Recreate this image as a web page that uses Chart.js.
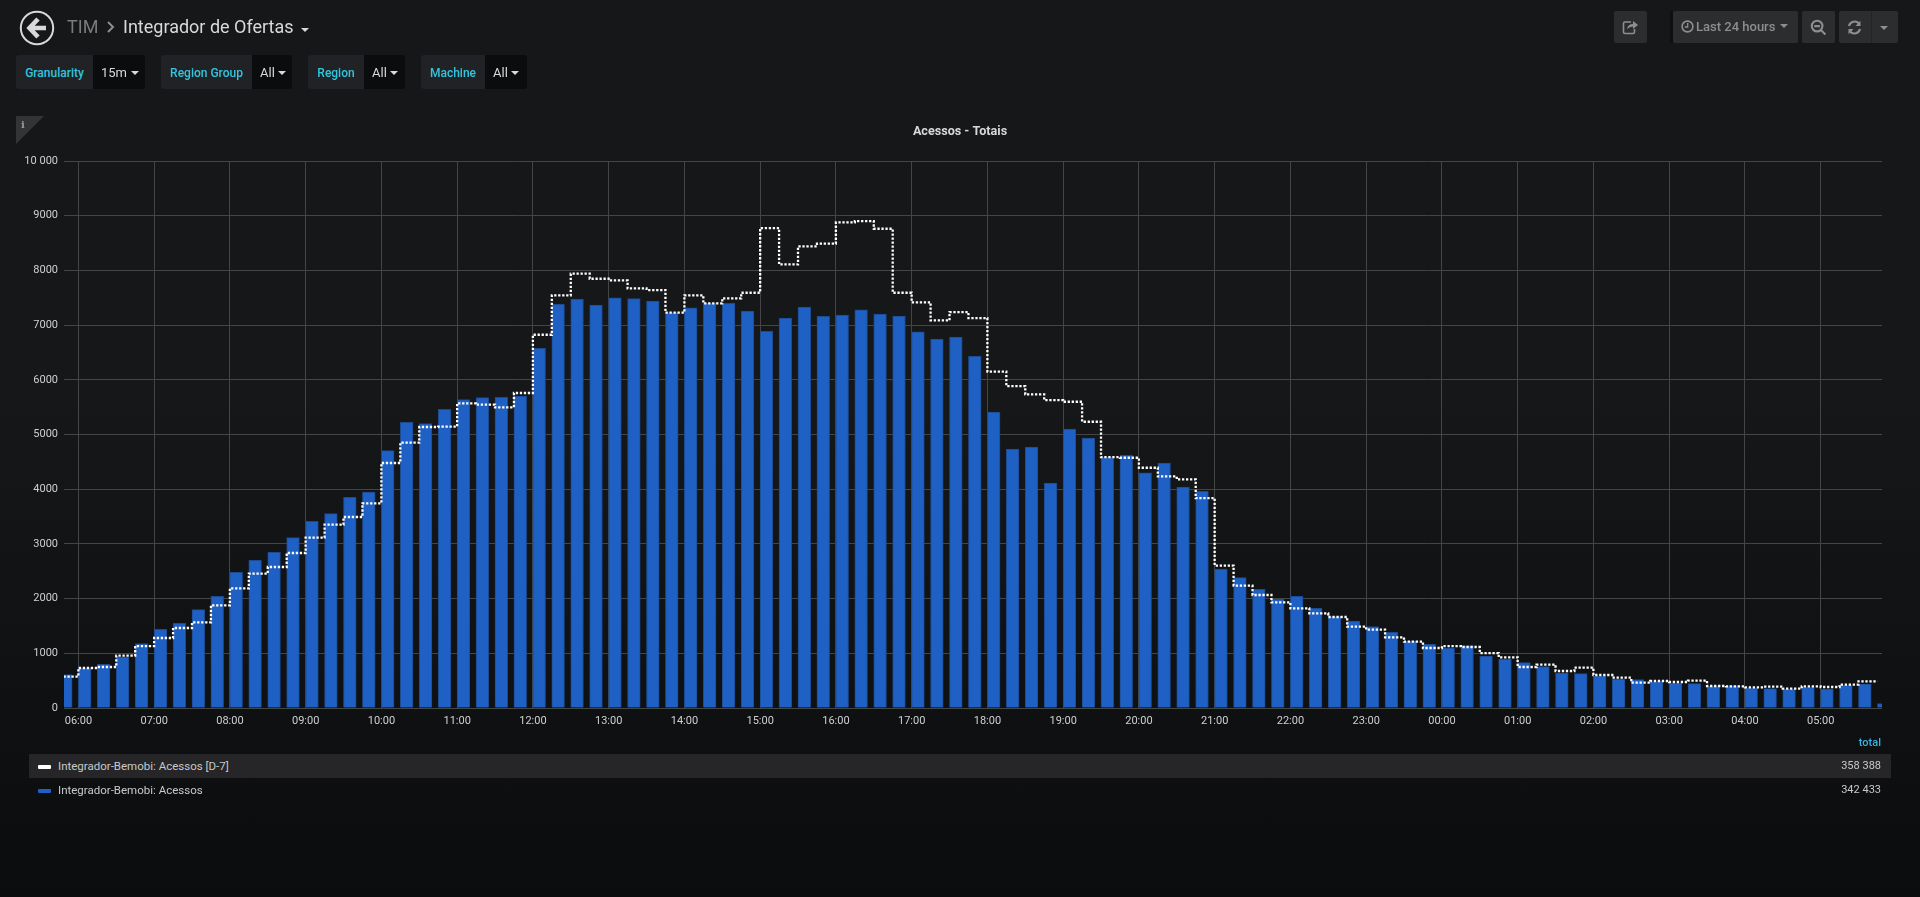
<!DOCTYPE html>
<html>
<head>
<meta charset="utf-8">
<title>Integrador de Ofertas</title>
<script src="https://cdn.jsdelivr.net/npm/chart.js@4/dist/chart.umd.min.js"></script>
<style>
html,body{margin:0;padding:0;width:1920px;height:897px;overflow:hidden;}
body{background:linear-gradient(#161719 0%,#161719 45%,#0f1012 80%,#0b0c0e 100%);font-family:Roboto,sans-serif;color:#d8d9da;position:relative;}
canvas{position:absolute;left:0;top:0;}
.a{position:absolute;white-space:nowrap;}
.lab{background:#212226;color:#33c5de;font-weight:500;font-size:12px;height:34px;line-height:36px;text-align:center;border-radius:3px 0 0 3px;}
.val{background:#0b0c0e;color:#d8d9da;font-size:13px;height:34px;line-height:36px;border-radius:0 3px 3px 0;text-align:left;}
.car{position:absolute;width:0;height:0;border-left:4px solid transparent;border-right:4px solid transparent;border-top:4px solid currentColor;}
.btn{background:#2c2d2f;border-radius:2px;height:32px;top:11px;color:#8e8e8e;}
.leg{font-size:11.5px;color:#c8c9ca;}
.num{font-size:11px;color:#c8c9ca;}
</style>
</head>
<body>
<canvas id="chart" width="1920" height="897"></canvas>

<!-- header -->
<svg class="a" style="left:19px;top:10px" width="36" height="36" viewBox="0 0 36 36">
  <circle cx="18" cy="18" r="16.2" fill="none" stroke="#d8d9da" stroke-width="2"/>
  <path d="M19 9 L10.5 18 L19 27 M11 18 H27" fill="none" stroke="#d8d9da" stroke-width="4.6"/>
</svg>
<div class="a" style="left:67px;top:16px;font-size:18px;color:#7b7b7b;line-height:22px">TIM</div>
<svg class="a" style="left:106px;top:20px" width="9" height="14" viewBox="0 0 9 14"><path d="M2 2 L7 7 L2 12" fill="none" stroke="#8e8e8e" stroke-width="2"/></svg>
<div class="a" style="left:123px;top:16px;font-size:18px;color:#d8d9da;line-height:22px">Integrador de Ofertas</div>
<div class="car" style="left:301px;top:28px;color:#d8d9da"></div>

<!-- variables -->
<div class="a lab" style="left:16px;top:55px;width:77px">Granularity</div>
<div class="a val" style="left:93px;top:55px;width:44px;padding-left:8px">15m</div>
<div class="car" style="left:131px;top:71px;color:#d8d9da"></div>
<div class="a lab" style="left:161px;top:55px;width:91px">Region Group</div>
<div class="a val" style="left:252px;top:55px;width:32px;padding-left:8px">All</div>
<div class="car" style="left:278px;top:71px;color:#d8d9da"></div>
<div class="a lab" style="left:308px;top:55px;width:56px">Region</div>
<div class="a val" style="left:364px;top:55px;width:33px;padding-left:8px">All</div>
<div class="car" style="left:390px;top:71px;color:#d8d9da"></div>
<div class="a lab" style="left:421px;top:55px;width:64px">Machine</div>
<div class="a val" style="left:485px;top:55px;width:34px;padding-left:8px">All</div>
<div class="car" style="left:511px;top:71px;color:#d8d9da"></div>

<!-- toolbar -->
<div class="a btn" style="left:1614px;width:33px">
  <svg style="position:absolute;left:8px;top:8px" width="17" height="16" viewBox="0 0 17 16"><path d="M9 3 H3 Q1.5 3 1.5 4.5 V13 Q1.5 14.5 3 14.5 H11 Q12.5 14.5 12.5 13 V10" fill="none" stroke="#8e8e8e" stroke-width="1.6"/><path d="M5 10 Q6 5 11 5 V2 L16 6 L11 10 V7.4 Q7.5 7.4 5 10 Z" fill="#8e8e8e"/></svg>
</div>
<div class="a" style="left:1670px;top:11px;width:3px;height:32px;background:#0e0f11"></div>
<div class="a btn" style="left:1673px;width:125px;font-size:13px;line-height:32px">
  <svg style="position:absolute;left:8px;top:9px" width="13" height="13" viewBox="0 0 13 13"><circle cx="6.5" cy="6.5" r="5.4" fill="none" stroke="#8e8e8e" stroke-width="1.6"/><path d="M6.7 3 V7 H3.8" fill="none" stroke="#8e8e8e" stroke-width="1.3"/></svg>
  <span style="position:absolute;left:23px;font-weight:500">Last 24 hours</span>
  <div class="car" style="left:107px;top:13px"></div>
</div>
<div class="a btn" style="left:1802px;width:33px">
  <svg style="position:absolute;left:8px;top:8px" width="17" height="17" viewBox="0 0 16 16"><circle cx="6.7" cy="6.7" r="5" fill="none" stroke="#8e8e8e" stroke-width="2"/><path d="M4 6.7 H9.4 M10.5 10.5 L14.5 14.5" stroke="#8e8e8e" stroke-width="2" fill="none"/></svg>
</div>
<div class="a btn" style="left:1839px;width:59px">
  <svg style="position:absolute;left:8px;top:9px" width="15" height="15" viewBox="0 0 15 15"><path d="M2 6 A5.8 5.8 0 0 1 12 3.5 M13 9 A5.8 5.8 0 0 1 3 11.5" fill="none" stroke="#8e8e8e" stroke-width="2.2"/><path d="M13.5 0.8 V6 H8.5 Z M1.5 14.2 V9 H6.5 Z" fill="#8e8e8e"/></svg>
  <div style="position:absolute;left:32px;top:0;width:1px;height:32px;background:#232426"></div>
  <div class="car" style="left:41px;top:15px"></div>
</div>

<!-- panel info corner -->
<svg class="a" style="left:16px;top:116px" width="28" height="28" viewBox="0 0 28 28"><path d="M0 0 H28 L0 28 Z" fill="#333436"/></svg>
<div class="a" style="left:21px;top:118px;font:bold 10px 'DejaVu Serif',serif;color:#9a9a9a;line-height:14px">i</div>

<!-- legend -->
<div class="a" style="left:29px;top:754px;width:1862px;height:24px;background:#262628"></div>
<div class="a" style="left:1841px;width:40px;top:736px;text-align:right;font-size:11px;line-height:14px;color:#33b5e5;font-weight:500">total</div>
<div class="a" style="left:38px;top:765px;width:13px;height:4px;background:#fff;border-radius:1px"></div>
<div class="a leg" style="left:58px;top:758.5px;line-height:14px">Integrador-Bemobi: Acessos [D-7]</div>
<div class="a num" style="left:1781px;width:100px;text-align:right;top:758.5px;line-height:14px">358 388</div>
<div class="a" style="left:38px;top:789px;width:13px;height:4px;background:#1f60c4;border-radius:1px"></div>
<div class="a leg" style="left:58px;top:782.5px;line-height:14px">Integrador-Bemobi: Acessos</div>
<div class="a num" style="left:1781px;width:100px;text-align:right;top:782.5px;line-height:14px">342 433</div>

<script>
const categories = [
"05:45",
"06:00","06:15","06:30","06:45","07:00","07:15","07:30","07:45",
"08:00","08:15","08:30","08:45","09:00","09:15","09:30","09:45",
"10:00","10:15","10:30","10:45","11:00","11:15","11:30","11:45",
"12:00","12:15","12:30","12:45","13:00","13:15","13:30","13:45",
"14:00","14:15","14:30","14:45","15:00","15:15","15:30","15:45",
"16:00","16:15","16:30","16:45","17:00","17:15","17:30","17:45",
"18:00","18:15","18:30","18:45","19:00","19:15","19:30","19:45",
"20:00","20:15","20:30","20:45","21:00","21:15","21:30","21:45",
"22:00","22:15","22:30","22:45","23:00","23:15","23:30","23:45",
"00:00","00:15","00:30","00:45","01:00","01:15","01:30","01:45",
"02:00","02:15","02:30","02:45","03:00","03:15","03:30","03:45",
"04:00","04:15","04:30","04:45","05:00","05:15","05:30","05:45"];

const acessos = [
610,
725,798,930,1176,1438,1548,1798,2041,
2480,2700,2846,3114,3413,3553,3851,3949,
4705,5222,5198,5460,5637,5673,5680,5704,
6575,7379,7476,7367,7501,7483,7440,7227,
7318,7397,7397,7257,6885,7129,7330,7160,
7184,7281,7202,7166,6879,6745,6782,6428,
5411,4734,4770,4112,5099,4935,4581,4618,
4301,4478,4039,3960,2541,2383,2169,1993,
2041,1822,1670,1590,1487,1383,1225,1164,
1097,1140,951,890,829,756,640,628,
585,530,518,481,451,445,396,408,
366,353,347,378,347,414,439,79];

const acessosD7 = [
573,
731,750,957,1133,1280,1463,1566,1877,
2188,2456,2578,2834,3114,3352,3492,3742,
4479,4851,5137,5143,5570,5545,5497,5759,
6824,7544,7940,7848,7818,7671,7641,7227,
7544,7397,7489,7592,8775,8110,8439,8488,
8878,8902,8762,7592,7416,7086,7239,7129,
6148,5885,5733,5629,5599,5233,4587,4575,
4392,4234,4179,3838,2602,2237,2066,1932,
1822,1731,1664,1487,1432,1292,1213,1097,
1133,1115,1005,926,750,792,676,737,
603,555,463,494,475,500,402,396,
378,390,353,396,384,427,488,488];

const xTickLabels = ["06:00","07:00","08:00","09:00","10:00","11:00","12:00","13:00","14:00","15:00","16:00","17:00","18:00","19:00","20:00","21:00","22:00","23:00","00:00","01:00","02:00","03:00","04:00","05:00"];
const yTickLabels = ["0","1000","2000","3000","4000","5000","6000","7000","8000","9000","10 000"];
const seriesNames = ["Integrador-Bemobi: Acessos [D-7]","Integrador-Bemobi: Acessos"];
const panelTitle = "Acessos - Totais";

function toMinutes(list){
  let prev = -1, add = 0;
  return list.map(s => {
    const p = s.split(":");
    let m = (+p[0])*60 + (+p[1]);
    if (m + add <= prev) add += 1440;
    prev = m + add;
    return prev;
  });
}
const slotMinutes = toMinutes(categories);
const tickMinutes = toMinutes(xTickLabels);
const WINDOW_START = 348.6, WINDOW_END = 1788.6, BAR_SHIFT = 5;

const GRID = "#444547", TICK = "#cfd0d1";

new Chart(document.getElementById("chart").getContext("2d"), {
  data: {
    datasets: [
      {
        type: "line",
        label: seriesNames[0],
        data: slotMinutes.map((t,i)=>({x:t,y:acessosD7[i]})),
        borderColor: "#ffffff",
        borderWidth: 2.3,
        borderDash: [2.3,1.7],
        pointRadius: 0,
        stepped: "before",
        fill: false,
        order: 0
      },
      {
        type: "bar",
        label: seriesNames[1],
        data: slotMinutes.map((t,i)=>({x:t+BAR_SHIFT,y:acessos[i]})),
        backgroundColor: "#1f60c4",
        borderColor: "#1c4a90",
        borderWidth: 1,
        barThickness: 12.7,
        order: 1
      }
    ]
  },
  options: {
    responsive: false,
    animation: false,
    devicePixelRatio: 1,
    layout: { padding: { left: 0, right: 0, top: 121, bottom: 159 } },
    plugins: {
      legend: { display: false },
      tooltip: { enabled: false },
      title: {
        display: true,
        text: panelTitle,
        color: "#d8d9da",
        font: { family: "Roboto", size: 12.6, weight: "bold" },
        padding: { top: 3, bottom: 21.9 }
      }
    },
    scales: {
      x: {
        type: "linear",
        min: WINDOW_START,
        max: WINDOW_END,
        offset: false,
        grid: { color: GRID, lineWidth: 1, drawTicks: false, offset: false },
        border: { display: false },
        afterBuildTicks: s => { s.ticks = tickMinutes.map(v => ({value:v})); },
        afterFit: s => { s.height = 30; },
        ticks: {
          autoSkip: false, maxRotation: 0, minRotation: 0, padding: 7,
          color: TICK, font: { family: "Roboto", size: 11 },
          callback: (v,i) => xTickLabels[i]
        }
      },
      y: {
        type: "linear",
        min: 0,
        max: 10000,
        grid: { color: GRID, lineWidth: 1, drawTicks: false },
        border: { display: false },
        afterFit: s => { s.width = 64; },
        ticks: {
          stepSize: 1000, padding: 6,
          color: TICK, font: { family: "Roboto", size: 11 },
          callback: (v,i) => yTickLabels[i]
        }
      },
      rightGutter: {
        type: "linear",
        position: "right",
        display: true,
        grid: { display: false, drawTicks: false },
        border: { display: false },
        ticks: { display: false },
        afterFit: s => { s.width = 38; }
      }
    }
  }
});
</script>
</body>
</html>
